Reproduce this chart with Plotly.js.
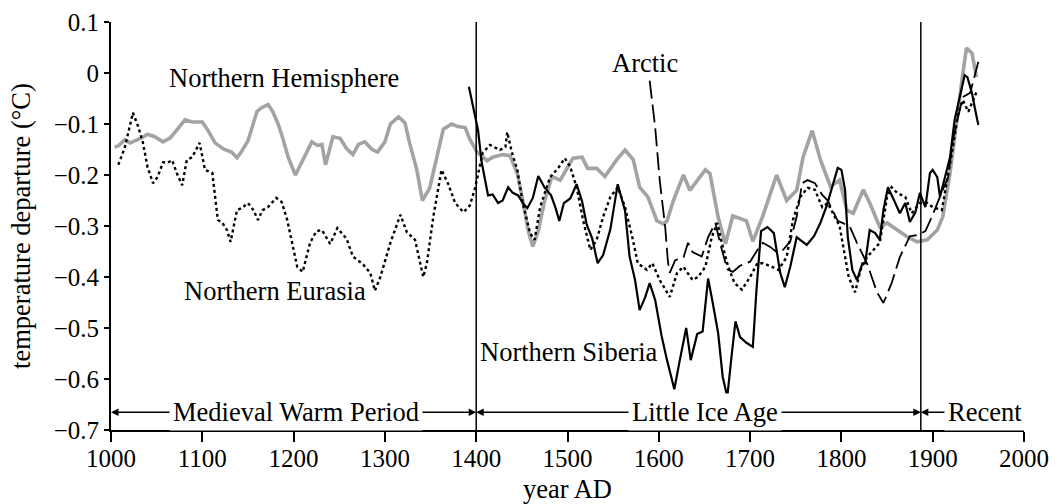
<!DOCTYPE html>
<html>
<head>
<meta charset="utf-8">
<script src="https://cdn.plot.ly/plotly-3.0.1.min.js"></script>
<style>
  html, body { margin: 0; padding: 0; background: #fff; }
  #chart { width: 1055px; height: 504px; }
</style>
</head>
<body>
<div id="chart"></div>
<script>
// Reconstructed temperature departures (°C), years AD
const nhYears = [1004,1008,1015,1021,1026,1034,1040,1048,1057,1065,1072,1081,1089,1100,1106,1114,1123,1132,1138,1143,1150,1160,1165,1172,1177,1183,1188,1194,1202,1210,1220,1226,1231,1235,1243,1251,1258,1265,1271,1278,1286,1292,1300,1306,1315,1322,1327,1335,1341,1349,1357,1364,1373,1380,1388,1393,1401,1412,1418,1429,1437,1445,1451,1457,1462,1468,1475,1483,1492,1499,1506,1516,1522,1532,1541,1554,1563,1572,1579,1588,1598,1605,1609,1616,1627,1634,1642,1651,1656,1665,1673,1681,1696,1703,1714,1729,1740,1751,1758,1768,1777,1788,1798,1806,1813,1824,1831,1842,1850,1861,1872,1883,1894,1905,1911,1919,1927,1932,1937,1943,1948];
const nhValues = [-0.145,-0.143,-0.131,-0.137,-0.133,-0.127,-0.12,-0.125,-0.135,-0.127,-0.112,-0.092,-0.096,-0.096,-0.112,-0.137,-0.149,-0.155,-0.166,-0.154,-0.133,-0.075,-0.068,-0.062,-0.075,-0.10,-0.127,-0.165,-0.2,-0.17,-0.135,-0.142,-0.14,-0.18,-0.125,-0.128,-0.148,-0.16,-0.14,-0.135,-0.15,-0.155,-0.135,-0.10,-0.086,-0.098,-0.137,-0.19,-0.25,-0.226,-0.165,-0.11,-0.10,-0.105,-0.107,-0.13,-0.155,-0.172,-0.165,-0.16,-0.162,-0.197,-0.25,-0.31,-0.34,-0.31,-0.25,-0.203,-0.21,-0.19,-0.167,-0.165,-0.187,-0.187,-0.203,-0.17,-0.151,-0.17,-0.224,-0.243,-0.29,-0.296,-0.29,-0.25,-0.2,-0.23,-0.21,-0.19,-0.197,-0.283,-0.335,-0.28,-0.29,-0.33,-0.28,-0.2,-0.25,-0.23,-0.165,-0.113,-0.17,-0.223,-0.21,-0.269,-0.275,-0.229,-0.255,-0.302,-0.294,-0.308,-0.321,-0.331,-0.327,-0.308,-0.282,-0.196,-0.078,-0.014,0.049,0.039,-0.008];

const euYears = [1008,1015,1024,1030,1035,1040,1046,1051,1057,1062,1067,1072,1078,1083,1089,1097,1103,1111,1117,1122,1127,1131,1138,1143,1150,1156,1161,1166,1172,1181,1187,1193,1198,1204,1210,1218,1225,1231,1240,1248,1258,1265,1276,1284,1289,1295,1306,1317,1324,1333,1342,1346,1353,1362,1369,1377,1386,1393,1399,1407,1415,1426,1432,1434,1439,1445,1451,1459,1464,1470,1481,1490,1497,1503,1510,1517,1525,1532,1539,1547,1555,1563,1571,1577,1587,1593,1601,1606,1612,1620,1627,1637,1643,1651,1658,1664,1669,1676,1683,1691,1700,1708,1714,1724,1731,1740,1747,1755,1763,1771,1779,1785,1791,1798,1803,1808,1815,1821,1828,1835,1842,1850,1855,1861,1870,1877,1886,1894,1900,1910,1916,1921,1928,1933,1939,1944,1948];
const euValues = [-0.18,-0.147,-0.078,-0.106,-0.137,-0.184,-0.216,-0.204,-0.175,-0.176,-0.171,-0.196,-0.22,-0.171,-0.165,-0.137,-0.19,-0.196,-0.288,-0.294,-0.308,-0.331,-0.269,-0.265,-0.255,-0.269,-0.288,-0.269,-0.263,-0.245,-0.253,-0.288,-0.33,-0.38,-0.39,-0.333,-0.31,-0.308,-0.335,-0.304,-0.325,-0.36,-0.375,-0.392,-0.427,-0.4,-0.333,-0.278,-0.312,-0.327,-0.4,-0.373,-0.282,-0.19,-0.216,-0.255,-0.273,-0.26,-0.224,-0.157,-0.141,-0.151,-0.145,-0.116,-0.155,-0.19,-0.255,-0.314,-0.327,-0.263,-0.204,-0.186,-0.167,-0.184,-0.224,-0.288,-0.347,-0.327,-0.282,-0.243,-0.224,-0.263,-0.322,-0.373,-0.386,-0.373,-0.406,-0.42,-0.439,-0.392,-0.38,-0.406,-0.4,-0.38,-0.322,-0.294,-0.333,-0.38,-0.412,-0.425,-0.4,-0.373,-0.373,-0.38,-0.386,-0.361,-0.288,-0.243,-0.225,-0.229,-0.263,-0.255,-0.275,-0.3,-0.35,-0.4,-0.43,-0.386,-0.361,-0.347,-0.333,-0.243,-0.224,-0.235,-0.243,-0.275,-0.255,-0.255,-0.263,-0.269,-0.21,-0.157,-0.078,-0.053,-0.076,-0.053,-0.037];

const sibYears = [1392,1397,1402,1406,1410,1413,1418,1424,1429,1435,1440,1446,1451,1456,1462,1468,1475,1482,1487,1491,1496,1503,1510,1516,1521,1527,1533,1539,1547,1555,1563,1568,1574,1579,1585,1590,1596,1603,1609,1614,1617,1623,1630,1635,1642,1648,1654,1659,1665,1670,1675,1680,1684,1689,1696,1703,1707,1712,1719,1726,1733,1738,1744,1751,1762,1770,1777,1784,1790,1796,1800,1804,1807,1812,1817,1823,1826,1831,1837,1842,1846,1851,1859,1864,1870,1875,1881,1886,1892,1897,1900,1905,1908,1913,1919,1924,1930,1935,1938,1943,1946,1950];
const sibValues = [-0.027,-0.07,-0.112,-0.175,-0.216,-0.24,-0.238,-0.255,-0.25,-0.224,-0.235,-0.24,-0.255,-0.265,-0.245,-0.202,-0.225,-0.24,-0.265,-0.29,-0.255,-0.246,-0.218,-0.252,-0.297,-0.324,-0.373,-0.357,-0.306,-0.218,-0.27,-0.36,-0.406,-0.465,-0.44,-0.412,-0.445,-0.515,-0.563,-0.596,-0.62,-0.563,-0.5,-0.563,-0.512,-0.507,-0.403,-0.45,-0.51,-0.596,-0.635,-0.55,-0.487,-0.518,-0.529,-0.537,-0.425,-0.31,-0.302,-0.314,-0.392,-0.42,-0.38,-0.322,-0.337,-0.32,-0.294,-0.26,-0.224,-0.186,-0.19,-0.229,-0.322,-0.386,-0.406,-0.373,-0.373,-0.308,-0.314,-0.327,-0.269,-0.224,-0.255,-0.275,-0.255,-0.292,-0.273,-0.235,-0.263,-0.196,-0.19,-0.204,-0.243,-0.21,-0.165,-0.092,-0.047,-0.004,-0.008,-0.039,-0.067,-0.102];

const arcYears = [1590,1596,1601,1607,1610,1612,1618,1627,1632,1637,1647,1654,1662,1667,1675,1681,1689,1700,1708,1714,1722,1729,1736,1744,1751,1757,1763,1771,1779,1785,1796,1809,1817,1828,1839,1846,1855,1864,1875,1883,1892,1900,1911,1917,1922,1928,1933,1941,1944,1950];
const arcValues = [-0.015,-0.106,-0.21,-0.302,-0.37,-0.392,-0.367,-0.362,-0.333,-0.351,-0.36,-0.322,-0.294,-0.333,-0.385,-0.39,-0.378,-0.37,-0.347,-0.333,-0.341,-0.351,-0.347,-0.33,-0.282,-0.216,-0.21,-0.216,-0.239,-0.25,-0.29,-0.3,-0.333,-0.373,-0.43,-0.451,-0.412,-0.361,-0.32,-0.318,-0.31,-0.278,-0.229,-0.204,-0.131,-0.086,-0.047,-0.039,-0.02,0.022];

// Climate periods: name, start year, end year
const periodNames = ['Medieval Warm Period', 'Little Ice Age', 'Recent'];
const periodStarts = [1000, 1400, 1887];
const periodEnds = [1400, 1887, 2000];

// A fresh font object for every place that needs one
const FONT_FAMILY = 'Liberation Serif';
const tf = (size) => ({ family: FONT_FAMILY, size: size, color: '#000' });
const LABEL_SIZE = 26.5;
const TICK_SIZE = 25;

const traces = [
  { x: nhYears, y: nhValues, name: 'Northern Hemisphere', mode: 'lines',
    line: { color: '#a3a3a3', width: 3.6 } },
  { x: euYears, y: euValues, name: 'Northern Eurasia', mode: 'lines',
    line: { color: '#000', width: 2.4, dash: 'dot' } },
  { x: arcYears, y: arcValues, name: 'Arctic', mode: 'lines',
    line: { color: '#000', width: 1.8, dash: '18px,6px' } },
  { x: sibYears, y: sibValues, name: 'Northern Siberia', mode: 'lines',
    line: { color: '#000', width: 2.2 } }
];

// Period boundaries as vertical rules (skip the axis at the start)
const shapes = periodStarts.slice(1).map(yr => ({
  type: 'line', xref: 'x', yref: 'paper', x0: yr, x1: yr, y0: 0, y1: 1,
  line: { color: '#000', width: 1.5 }
}));

const arrowY = -0.665;
const labelX = [1203, 1651, 1957];
const annotations = [];
periodNames.forEach((name, i) => {
  const arrow = (head) => ({
    x: head, y: arrowY, ax: labelX[i], ay: arrowY, axref: 'x', ayref: 'y',
    xref: 'x', yref: 'y', text: '', showarrow: true,
    arrowhead: 2, arrowsize: 1, arrowwidth: 1.5, arrowcolor: '#000', standoff: 0
  });
  annotations.push(arrow(periodStarts[i]));
  if (i < periodNames.length - 1) annotations.push(arrow(periodEnds[i]));
});
periodNames.forEach((name, i) => {
  annotations.push({
    x: labelX[i], y: arrowY, xref: 'x', yref: 'y', text: name, showarrow: false,
    bgcolor: '#fff', borderpad: 3, font: tf(LABEL_SIZE)
  });
});

// Series labels
const seriesLabels = [
  { text: 'Northern Hemisphere', x: 1190, y: -0.01 },
  { text: 'Northern Eurasia', x: 1180, y: -0.427 },
  { text: 'Northern Siberia', x: 1502, y: -0.547 },
  { text: 'Arctic', x: 1585, y: 0.02 }
];
seriesLabels.forEach(l => annotations.push({
  x: l.x, y: l.y, xref: 'x', yref: 'y', text: l.text, showarrow: false, font: tf(LABEL_SIZE)
}));

const layout = {
  width: 1055, height: 504,
  margin: { l: 111, r: 31, t: 22, b: 74 },
  paper_bgcolor: '#fff', plot_bgcolor: '#fff',
  showlegend: false,
  font: tf(TICK_SIZE),
  xaxis: {
    range: [1000, 2000], dtick: 100, tick0: 1000,
    showgrid: false, zeroline: false,
    showline: true, linecolor: '#000', linewidth: 2,
    ticks: 'outside', ticklen: 10, tickwidth: 2, tickcolor: '#000',
    ticklabelstandoff: -5,
    title: { text: 'year AD', standoff: 13, font: tf(LABEL_SIZE) },
    tickfont: tf(TICK_SIZE)
  },
  yaxis: {
    range: [-0.7, 0.1], dtick: 0.1, tick0: 0,
    showgrid: false, zeroline: false,
    showline: true, linecolor: '#000', linewidth: 2,
    ticks: 'outside', ticklen: 5, tickwidth: 2, tickcolor: '#000',
    title: { text: 'temperature departure (°C)', standoff: 15, font: tf(LABEL_SIZE) },
    tickfont: tf(TICK_SIZE)
  },
  shapes: shapes,
  annotations: annotations
};

Plotly.newPlot('chart', traces, layout, { displayModeBar: false });
</script>
</body>
</html>
